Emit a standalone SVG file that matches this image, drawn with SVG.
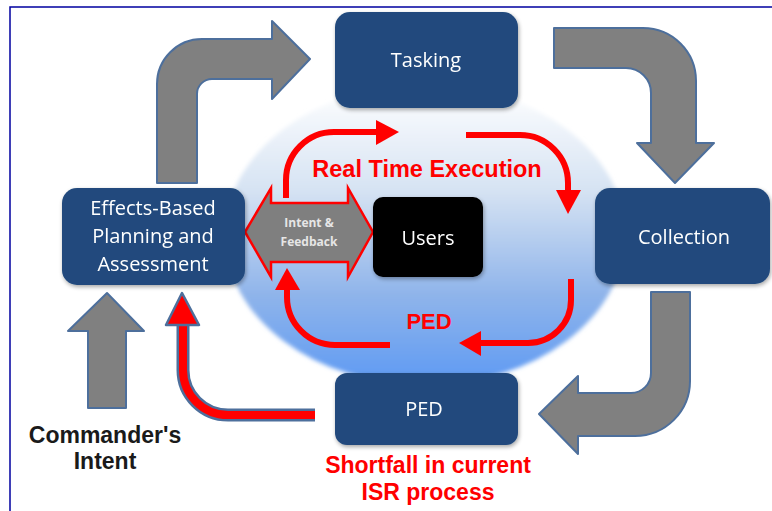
<svg xmlns="http://www.w3.org/2000/svg" width="772" height="511" viewBox="0 0 772 511">
<defs>
<linearGradient id="ellg" x1="0" y1="0" x2="0" y2="1">
<stop offset="0" stop-color="#ffffff"/>
<stop offset="0.35" stop-color="#d6e3f3"/>
<stop offset="0.7" stop-color="#8fb4ea"/>
<stop offset="1" stop-color="#5e9af4"/>
</linearGradient>
<filter id="sh" x="-10%" y="-10%" width="130%" height="130%">
<feGaussianBlur in="SourceAlpha" stdDeviation="2"/>
<feOffset dx="1" dy="2" result="b"/>
<feComponentTransfer><feFuncA type="linear" slope="0.35"/></feComponentTransfer>
<feMerge><feMergeNode/><feMergeNode in="SourceGraphic"/></feMerge>
</filter>
<filter id="soft"><feGaussianBlur stdDeviation="2"/></filter>
</defs>
<style>
.box{fill:#214a7d;}
.lbl{font-family:"Open Sans","Liberation Sans",sans-serif;fill:#ffffff;font-size:20px;text-anchor:middle;}
.gray{fill:#808080;stroke:#4d6f9c;stroke-width:2;stroke-linejoin:round;}
.red{fill:none;stroke:#ff0000;stroke-width:6;}
.redh{fill:#ff0000;}
.rt{font-family:"Liberation Sans",Arial,sans-serif;font-weight:bold;fill:#ff0000;text-anchor:middle;}
.bt{font-family:"Liberation Sans",Arial,sans-serif;font-weight:bold;fill:#1a1a1a;text-anchor:middle;font-size:23px;}
</style>
<rect x="0" y="0" width="772" height="511" fill="#ffffff"/>
<path d="M10,511 L10,7 L772,7" fill="none" stroke="#0000a0" stroke-width="1.5"/>

<ellipse id="ellipse" cx="425" cy="235" rx="200" ry="150" fill="url(#ellg)" filter="url(#soft)"/>

<g id="connectors">
<path class="gray" d="M157,183 L157,84 A45,45 0 0 1 202,39 L272,39 L272,21 L310,59 L272,99 L272,79 L212,79 A15,15 0 0 0 197,94 L197,183 Z"/>
<path class="gray" d="M554,28 L643,28 A53,53 0 0 1 696,81 L696,143 L714,143 L675,183 L637,143 L651,143 L651,93 A25,25 0 0 0 626,68 L554,68 Z"/>
<path class="gray" d="M651,292 L690,292 L690,381 A55,55 0 0 1 635,436 L578,436 L578,454 L539,414 L578,376 L578,393 L631,393 A20,20 0 0 0 651,373 Z"/>
<path class="gray" d="M88,408 L88,331 L68,331 L107,293 L144,331 L126,331 L126,408 Z"/>
<path d="M315,415 L228,415 A45,45 0 0 1 183,370 L183,322" fill="none" stroke="#4d6f9c" stroke-width="13"/>
<path d="M315,415 L228,415 A45,45 0 0 1 183,370 L183,322" fill="none" stroke="#ff0000" stroke-width="8"/>
<path d="M166,325 L182,293 L199,325 Z" fill="#ff0000" stroke="#4d6f9c" stroke-width="2.5" stroke-linejoin="round"/>
<path class="red" d="M286,198 L286,180 A48,48 0 0 1 334,132 L378,132"/>
<path class="redh" d="M376,120 L399,132 L376,145 Z"/>
<path class="red" d="M466,135 L520,135 A48,48 0 0 1 568,183 L568,192"/>
<path class="redh" d="M556,190 L568,214 L581,190 Z"/>
<path class="red" d="M571,279 L571,300 A43,43 0 0 1 528,343 L478,343"/>
<path class="redh" d="M481,331 L459,343 L481,356 Z"/>
<path class="red" d="M390,345 L335,345 A48,48 0 0 1 287,297 L287,288"/>
<path class="redh" d="M275,290 L287,268 L300,290 Z"/>
</g>

<g id="intent-feedback">
<polygon points="245,232 271,188 271,203 348,203 348,188 373,232 348,277 348,262 271,262 271,277" fill="#7f7f7f" stroke="#ff0000" stroke-width="2.5" stroke-linejoin="miter"/>
<text x="309" y="227" font-family="Open Sans,Liberation Sans,sans-serif" font-size="12" font-weight="bold" fill="#e6e6e6" text-anchor="middle">Intent &amp;</text>
<text x="309" y="246" font-family="Open Sans,Liberation Sans,sans-serif" font-size="12" font-weight="bold" fill="#e6e6e6" text-anchor="middle">Feedback</text>
</g>

<g id="tasking" filter="url(#sh)">
<rect class="box" x="335" y="12" width="183" height="96" rx="15"/>
<text class="lbl" x="426" y="67">Tasking</text>
</g>
<g id="collection" filter="url(#sh)">
<rect class="box" x="595" y="188" width="175" height="96" rx="15"/>
<text class="lbl" x="684" y="244">Collection</text>
</g>
<g id="effects" filter="url(#sh)">
<rect class="box" x="62" y="188" width="183" height="97" rx="15"/>
<text class="lbl" x="153" y="215">Effects-Based</text>
<text class="lbl" x="153" y="243">Planning and</text>
<text class="lbl" x="153" y="271">Assessment</text>
</g>
<g id="ped" filter="url(#sh)">
<rect class="box" x="335" y="373" width="183" height="72" rx="12"/>
<text class="lbl" x="424" y="416">PED</text>
</g>
<g id="users" filter="url(#sh)">
<rect x="373" y="197" width="110" height="80" rx="10" fill="#000000"/>
<text class="lbl" x="428" y="245" font-size="21">Users</text>
</g>

<g id="labels">
<text class="rt" x="427" y="177" font-size="23.5">Real Time Execution</text>
<text class="rt" x="429" y="329" font-size="22">PED</text>
<text class="bt" x="105" y="443">Commander's</text>
<text class="bt" x="105" y="469">Intent</text>
<text class="rt" x="428" y="473" font-size="23">Shortfall in current</text>
<text class="rt" x="428" y="500" font-size="23">ISR process</text>
</g>
</svg>
